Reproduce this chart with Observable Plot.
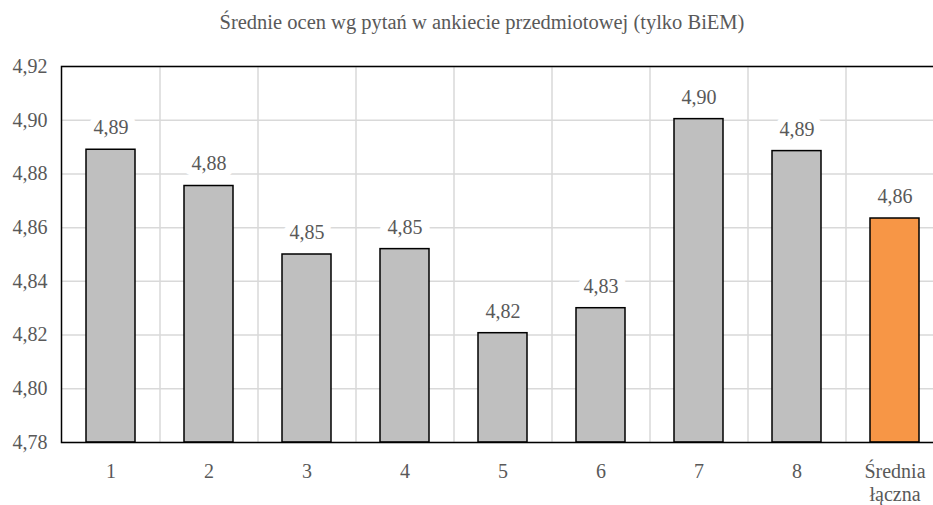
<!DOCTYPE html>
<html><head><meta charset="utf-8">
<script src="https://cdn.jsdelivr.net/npm/d3@7"></script>
<script src="https://cdn.jsdelivr.net/npm/@observablehq/plot@0.6"></script>
<style>
body{margin:0;overflow:hidden;background:#fff;font-family:"Liberation Serif","Times New Roman","DejaVu Serif",serif;}
#title{width:933px;height:50px;line-height:44px;text-align:center;padding-left:31px;box-sizing:border-box;font-size:20.5px;color:#595959;}
#chart{width:943px;}
#chart svg, #chart svg text{font-family:"Liberation Serif","Times New Roman","DejaVu Serif",serif !important;}
</style></head><body>
<div id="title">Średnie ocen wg pytań w ankiecie przedmiotowej (tylko BiEM)</div>
<div id="chart"></div>
<script>
const categories = ["1","2","3","4","5","6","7","8","Średnia\nłączna"];
const values = [4.889, 4.8755, 4.850, 4.852, 4.8207, 4.830, 4.9004, 4.8885, 4.8634];
const valueLabels = ["4,89","4,88","4,85","4,85","4,82","4,83","4,90","4,89","4,86"];
const barColors = ["#bfbfbf","#bfbfbf","#bfbfbf","#bfbfbf","#bfbfbf","#bfbfbf","#bfbfbf","#bfbfbf","#f79646"];
const yTicks = [4.78, 4.80, 4.82, 4.84, 4.86, 4.88, 4.90, 4.92];

const data = categories.map((c, i) => ({cat: c, value: values[i], label: valueLabels[i], color: barColors[i]}));

const chart = Plot.plot({
  width: 943,
  height: 455,
  marginLeft: 61,
  marginRight: 0,
  marginTop: 16,
  marginBottom: 63,
  style: {fontFamily: "'Liberation Serif', 'Times New Roman', serif", fontSize: "20px", color: "#595959", background: "#fff"},
  x: {domain: categories, paddingInner: 0.5, paddingOuter: 0.25, label: null},
  y: {domain: [4.78, 4.92], label: null},
  marks: [
    Plot.gridY(yTicks, {stroke: "#d9d9d9", strokeOpacity: 1, strokeWidth: 1.5}),
    Plot.ruleX(categories.slice(1), {dx: -49, stroke: "#d9d9d9", strokeWidth: 1.5}),
    Plot.barY(data, {x: "cat", y1: 4.78, y2: "value", fill: "color", stroke: "black", strokeWidth: 1.5}),
    Plot.text(data, {x: "cat", y: "value", text: "label", dy: -22, fill: "#595959", stroke: "white", strokeWidth: 16, fontSize: 20}),
    Plot.frame({stroke: "black", strokeWidth: 1.5}),
    Plot.axisY(yTicks, {tickSize: 0, tickPadding: 14, tickFormat: d => d.toFixed(2).replace(".", ","), fontSize: 20, label: null}),
    Plot.axisX({tickSize: 0, tickPadding: 19, fontSize: 20, lineHeight: 1.15, label: null})
  ]
});
document.getElementById("chart").appendChild(chart);
</script>
</body></html>
